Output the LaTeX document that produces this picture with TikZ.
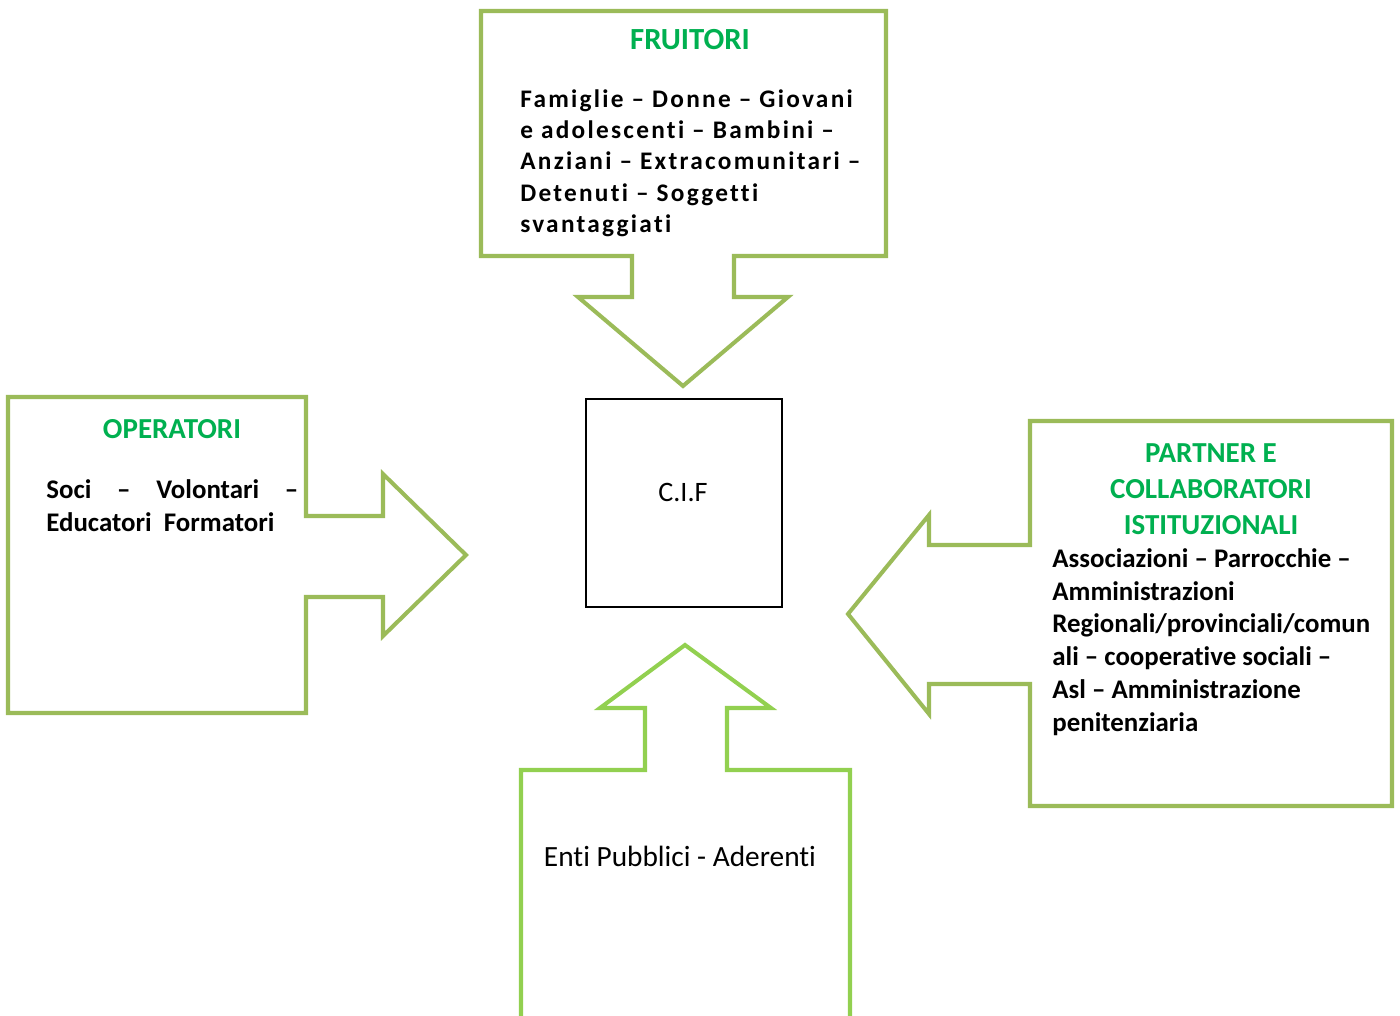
\documentclass[tikz,border=0pt]{standalone}
\usepackage{fontspec}
\setmainfont{Carlito}[Ligatures=NoCommon]
\begin{document}
\begin{tikzpicture}[x=0.02cm, y=-0.02cm]
    \definecolor{frame-color}{HTML}{9BBB59}
    \definecolor{frame-bright}{HTML}{92D050}
    \definecolor{title-color}{HTML}{00B050}
    \tikzstyle{every node}=[inner sep=0pt, font=\fontsize{15.3}{18.7}\selectfont\bfseries]
    \tikzstyle{callout} = [draw=frame-color, line width=2.3pt, fill=white, line join=miter]
    \tikzstyle{title} = [text=title-color, font=\fontsize{16.5}{20.4}\selectfont\bfseries, align=center]
    \tikzstyle{body} = [anchor=north west, align=left]
    \useasboundingbox (0,0) rectangle (1400,1016);
        % callout shapes
        \draw[callout] (481,11) -- (886,11) -- (886,256) -- (734,256) -- (734,297) -- (788,297) -- (683,386) -- (578,297) -- (632,297) -- (632,256) -- (481,256) -- cycle;
        \draw[callout] (8,397) -- (306,397) -- (306,516) -- (383,516) -- (383,474) -- (466,555) -- (383,636) -- (383,597) -- (306,597) -- (306,713) -- (8,713) -- cycle;
        \draw[callout] (1030,421) -- (1392,421) -- (1392,806) -- (1030,806) -- (1030,684) -- (929,684) -- (929,714) -- (848,614) -- (929,515) -- (929,545) -- (1030,545) -- cycle;
        \draw[callout, draw=frame-bright] (521,1030) -- (521,770) -- (645,770) -- (645,708) -- (600,708) -- (685,645) -- (771,708) -- (727,708) -- (727,770) -- (850,770) -- (850,1030);
        % centre
        \node (cif) [draw, line width=1.2pt, minimum width=3.92cm, minimum height=4.16cm] at (684,503) {};
        \node (ciflabel) [font=\fontsize{16}{19}\selectfont] at (683,492) {C.I.F};
        % fruitori
        \node (fruTitle) [title, font=\fontsize{17.5}{20}\selectfont\bfseries] at (690,40) {FRUITORI};
        \node (fruBody) [body, font=\fontsize{14.4}{17.9}\selectfont\bfseries\addfontfeature{LetterSpace=9}] at (520,89) {Famiglie -- Donne -- Giovani\\e adolescenti -- Bambini --\\Anziani -- Extracomunitari --\\Detenuti -- Soggetti\\svantaggiati};
        % operatori
        \node (opTitle) [title] at (172,429) {OPERATORI};
        \node (opBody) [body, align=justify, text width=5.04cm] at (46,479) {Soci\hfill--\hfill Volontari\hfill--\\Educatori\ \ Formatori};
        % partner
        \node (parTitle) [title] at (1211,489) {PARTNER E\\COLLABORATORI\\ISTITUZIONALI};
        \node (parBody) [body] at (1052,548) {Associazioni -- Parrocchie --\\Amministrazioni\\Regionali/provinciali/comun\\ali -- cooperative sociali --\\Asl -- Amministrazione\\penitenziaria};
        % enti
        \node (entiLabel) [font=\fontsize{16.7}{20}\selectfont] at (680,856) {Enti Pubblici - Aderenti};
\end{tikzpicture}
\end{document}
